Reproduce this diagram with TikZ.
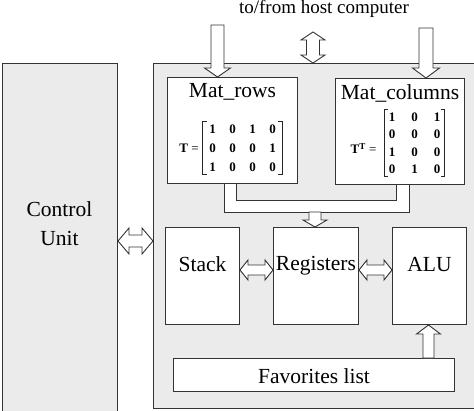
\documentclass[tikz,border=0pt]{standalone}
\usepackage{fontspec}
\setmainfont{Liberation Serif}
\usetikzlibrary{calc,matrix}
\newcommand\blkarrow[5]{% tail, tip, shaft half, head half, head length
  \coordinate (hb) at ($(#2)!#5pt!(#1)$);
  \draw[blk] ($(#1)!#3pt!90:(#2)$) -- ($(hb)!#3pt!90:(#2)$) -- ($(hb)!#4pt!90:(#2)$) -- (#2)
    -- ($(hb)!#4pt!-90:(#2)$) -- ($(hb)!#3pt!-90:(#2)$) -- ($(#1)!#3pt!-90:(#2)$) -- cycle;}
\newcommand\dblarrow[5]{%
  \coordinate (ha) at ($(#1)!#5pt!(#2)$);
  \coordinate (hc) at ($(#2)!#5pt!(#1)$);
  \draw[blk] (#1) -- ($(ha)!#4pt!90:(#2)$) -- ($(ha)!#3pt!90:(#2)$) -- ($(hc)!#3pt!90:(#2)$)
    -- ($(hc)!#4pt!90:(#2)$) -- (#2) -- ($(hc)!#4pt!-90:(#2)$) -- ($(hc)!#3pt!-90:(#2)$)
    -- ($(ha)!#3pt!-90:(#2)$) -- ($(ha)!#4pt!-90:(#2)$) -- cycle;}
\begin{document}
\begin{tikzpicture}[x=1pt,y=-1pt,
  panel/.style={draw=black!80, fill=black!8, line width=1pt, inner sep=0, anchor=north west},
  box/.style={draw=black!80, fill=white, line width=1pt, inner sep=0, anchor=north west},
  blk/.style={draw=black!80, fill=white, line width=0.9pt, line join=miter},
  txt/.style={font=\rmfamily\fontsize{21.5}{28.5}\selectfont, inner sep=0, anchor=base},
  brk/.style={line width=1.3pt, draw=black!85},
  mat/.style={matrix of nodes, inner ysep=3, draw=none,
    nodes={font=\rmfamily\bfseries\fontsize{13}{13}\selectfont, inner sep=0, text height=9, text depth=0, minimum width=7, anchor=center}}]
\useasboundingbox (0,0) rectangle (474,410);
% panels
\node[panel, minimum width=115, minimum height=352] (cu) at (2,63) {};
\node[panel, minimum width=325, minimum height=345] (main) at (153,63) {};
% boxes
\node[box, minimum width=130, minimum height=106] (rows) at (167,77) {};
\node[box, minimum width=129, minimum height=106] (cols) at (335,78) {};
\node[box, minimum width=74, minimum height=97] (stack) at (165,227) {};
\node[box, minimum width=85, minimum height=97] (regs) at (273,227) {};
\node[box, minimum width=74, minimum height=97] (alu) at (392,227) {};
\node[box, minimum width=281, minimum height=33] (fav) at (173,358) {};
% texts
\node[txt, font=\rmfamily\fontsize{19}{22}\selectfont] (ttl) at (324,13.5) {to/from host computer};
\node[txt, align=center] (cut) at (59.5,245) {Control\\Unit};
\node[txt] (rowst) at ($(rows.north)+(0,20.5)$) {Mat\_rows};
\node[txt] (colst) at ($(cols.north)+(0,21)$) {Mat\_columns};
\node[txt] (stackt) at ($(stack.north)+(0,44.5)$) {Stack};
\node[txt] (regst) at ($(regs.north)+(0,43)$) {Registers};
\node[txt] (alut) at ($(alu.north)+(0,44.5)$) {ALU};
\node[txt] (favt) at ($(fav.north)+(0,25.5)$) {Favorites list};
% matrices
\matrix (mT) [mat, inner xsep=6, column sep=13, row sep=10] at (242.5,148) {
  1 & 0 & 1 & 0 \\ 0 & 0 & 0 & 1 \\ 1 & 0 & 0 & 0 \\};
\matrix (mTT) [mat, inner xsep=4, column sep=15.5, row sep=8.3] at (414.5,143) {
  1 & 0 & 1 \\ 0 & 0 & 0 \\ 1 & 0 & 0 \\ 0 & 1 & 0 \\};
\foreach \m in {mT,mTT}{
  \draw[brk] ([xshift=4pt]\m.north west) -- (\m.north west) -- (\m.south west) -- ([xshift=4pt]\m.south west);
  \draw[brk] ([xshift=-4pt]\m.north east) -- (\m.north east) -- (\m.south east) -- ([xshift=-4pt]\m.south east);
}
\node[anchor=base, inner sep=0, font=\rmfamily\fontsize{13}{13}\selectfont] (tlab) at (189,152.5) {\textbf{T} =};
\node[anchor=base, inner sep=0, font=\rmfamily\fontsize{13}{13}\selectfont] (ttlab) at (363.5,153.5) {\textbf{T}\textsuperscript{\textbf{T}} =};
% bus pipe
\draw[blk] (224,183) -- (224,212) -- (409,212) -- (409,184) -- (396,184) -- (396,200) -- (236,200) -- (236,183) -- cycle;
% arrows
\coordinate (inL) at (217.5,25);
\coordinate (inLt) at (inL |- rows.north);
\blkarrow{inL}{inLt}{6.5}{13}{9}
\coordinate (inR) at (426,28);
\coordinate (inRt) at (inR |- cols.north);
\blkarrow{inR}{inRt}{7}{13.5}{10}
\coordinate (hostA) at (313,32);
\coordinate (hostB) at (hostA |- main.north);
\dblarrow{hostA}{hostB}{6.5}{12}{8}
\coordinate (cuA) at ($(cu.north east)+(0,178)$);
\coordinate (cuB) at (cuA -| main.west);
\dblarrow{cuA}{cuB}{6}{13}{11}
\coordinate (sr1) at ($(stack.north east)+(0,43)$);
\coordinate (sr2) at (sr1 -| regs.west);
\dblarrow{sr1}{sr2}{5}{10}{8}
\coordinate (ra1) at ($(regs.north east)+(0,43)$);
\coordinate (ra2) at (ra1 -| alu.west);
\dblarrow{ra1}{ra2}{5}{10}{8}
\coordinate (busA) at (315,212);
\coordinate (busB) at (busA |- regs.north);
\blkarrow{busA}{busB}{6}{12}{7}
\coordinate (favA) at ($(fav.north west)+(255.5,0)$);
\coordinate (favB) at (favA |- alu.south);
\blkarrow{favA}{favB}{5.5}{12}{9}
\end{tikzpicture}
\end{document}
